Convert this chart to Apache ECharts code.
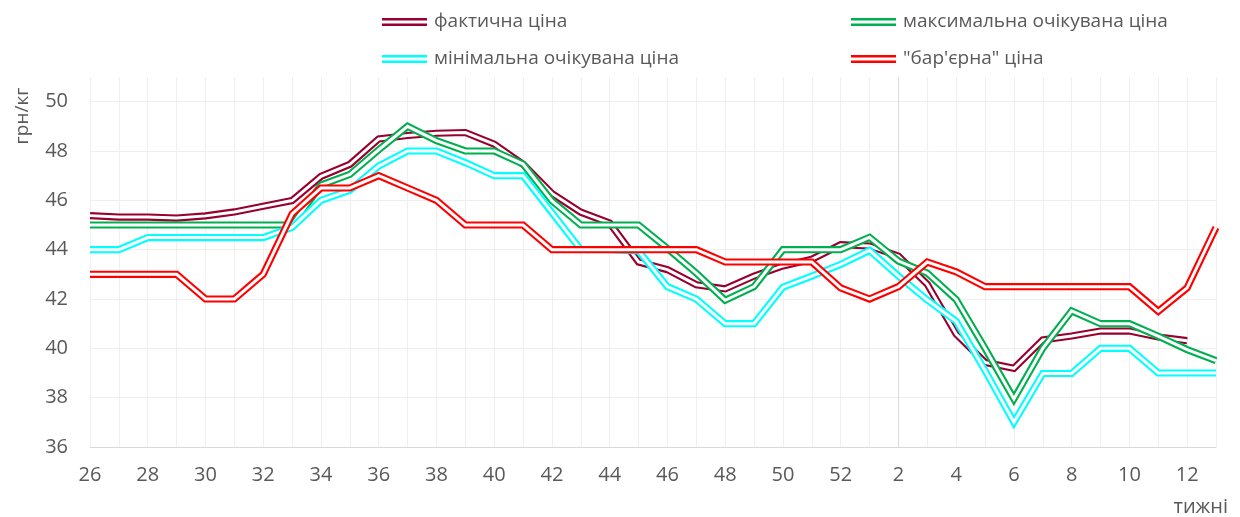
<!DOCTYPE html>
<html><head><meta charset="utf-8">
<script src="https://cdn.jsdelivr.net/npm/echarts@6/dist/echarts.min.js"></script>
<style>html,body{margin:0;padding:0;background:#fff}#c{width:1240px;height:517px}</style>
</head><body><div id="c"></div>
<script>
// Categories: weeks
const weeks = ['26','27','28','29','30','31','32','33','34','35','36','37','38','39','40','41','42','43','44','45','46','47','48','49','50','51','52','1','2','3','4','5','6','7','8','9','10','11','12','13'];
// Series values (грн/кг)
const actualPrice = [45.38,45.32,45.32,45.28,45.37,45.53,45.76,45.99,46.97,47.46,
  48.49,48.63,48.72,48.75,48.28,47.46,46.28,45.52,45.08,43.5,
  43.19,42.58,42.41,42.93,43.34,43.61,44.2,44.15,43.74,42.6,
  40.58,39.43,39.19,40.34,40.5,40.7,40.7,40.46,40.31,null];
const maxExpected = [45.0,45.0,45.0,45.0,45.0,45.0,45.0,45.0,46.62,47.05,
  48.05,49.0,48.42,48.0,48.0,47.47,45.98,45.0,45.0,45.0,
  44.05,43.05,41.95,42.5,44.0,44.0,44.0,44.5,43.54,43.05,
  41.98,40.0,37.95,40.0,41.52,41.0,41.0,40.49,39.95,39.5];
const minExpected = [44.0,44.0,44.49,44.49,44.49,44.49,44.49,44.9,46.0,46.41,
  47.39,48.0,48.0,47.53,47.0,47.0,45.5,44.0,44.0,43.95,
  42.5,42.0,41.0,41.0,42.48,42.93,43.4,43.97,42.93,41.96,
  41.1,39.1,37.0,38.98,38.98,40.0,40.0,39.0,39.0,39.0];
const barrierPrice = [43.0,43.0,43.0,43.0,42.0,42.0,43.0,45.45,46.5,46.5,
  47.0,46.5,46.0,45.0,45.0,45.0,44.0,44.0,44.0,44.0,
  44.0,44.0,43.5,43.5,43.5,43.5,42.45,42.0,42.5,43.5,
  43.1,42.5,42.5,42.5,42.5,42.5,42.5,41.5,42.45,44.9];
const seriesNames = ['фактична ціна','максимальна очікувана ціна','мінімальна очікувана ціна','"бар\'єрна" ціна'];
const yMin = 36, yMax = 51, yStep = 2;
const yAxisTitle = 'грн/кг';
const xAxisTitle = 'тижні';
const yearBreakWeek = '2';

const colors = ['#98002E','#00B050','#00FFFF','#FF0000'];
const dataSets = [actualPrice, maxExpected, minExpected, barrierPrice];
const FONT = 'Open Sans';
const TXT = '#595959';
const OUTER = 7.2, INNER = 3;

const series = [];
dataSets.forEach((d, i) => {
  const s = {
    type: 'line', name: seriesNames[i], data: d, symbol: 'none', showSymbol: false,
    color: colors[i], itemStyle: {color: colors[i]},
    lineStyle: {color: colors[i], width: OUTER, join: 'miter', miterLimit: 10},
    emphasis: {disabled: true}, animation: false
  };
  if (i === 0) {
    s.markLine = {silent: true, symbol: ['none','none'], z: 1, label: {show: false},
      lineStyle: {color: '#d9d9d9', width: 1, type: 'solid'}, data: [{xAxis: yearBreakWeek}], animation: false};
  }
  series.push(s);
  series.push({
    type: 'line', name: seriesNames[i] + '_inner', data: d, symbol: 'none', showSymbol: false, silent: true,
    lineStyle: {color: '#ffffff', width: INNER, join: 'miter', miterLimit: 10},
    itemStyle: {color: '#ffffff'}, emphasis: {disabled: true}, animation: false, tooltip: {show: false}
  });
});

const legendPos = [[377, 5], [846, 5], [377, 42], [846, 42]];
const legends = seriesNames.map((n, i) => ({
  data: [n], left: legendPos[i][0], top: legendPos[i][1], orient: 'horizontal',
  itemWidth: 45, itemHeight: 8, itemGap: 0, selectedMode: false,
  icon: 'path://M0,0H45V2.6H0ZM0,5.4H45V8H0Z',
  itemStyle: {borderWidth: 0},
  textStyle: {color: TXT, fontSize: 19, fontFamily: FONT, lineHeight: 24, padding: [0,0,0,2]}
}));

const chart = echarts.init(document.getElementById('c'), null, {renderer: 'canvas'});
chart.setOption({
  backgroundColor: '#ffffff',
  animation: false,
  legend: legends,
  grid: {left: 90, right: 24, top: 77, bottom: 70, containLabel: false},
  xAxis: {
    type: 'category', data: weeks, boundaryGap: false,
    name: xAxisTitle, nameLocation: 'end', nameGap: 12,
    nameTextStyle: {color: TXT, fontSize: 20, fontFamily: FONT, align: 'right', verticalAlign: 'top', padding: [50,0,0,0]},
    axisLine: {show: true, lineStyle: {color: '#d9d9d9', width: 1}},
    axisTick: {show: false},
    axisLabel: {interval: 1, color: TXT, fontSize: 20, fontFamily: FONT, margin: 18},
    splitLine: {show: true, interval: 0, lineStyle: {color: '#efefef', width: 1}}
  },
  yAxis: {
    type: 'value', min: yMin, max: yMax, interval: yStep,
    axisLine: {show: false}, axisTick: {show: false},
    axisLabel: {color: TXT, fontSize: 20, fontFamily: FONT, margin: 22,
      formatter: v => (v === yMax ? '' : String(v))},
    splitLine: {show: true, showMaxLine: false, lineStyle: {color: '#efefef', width: 1}}
  },
  graphic: [{
    type: 'text', x: 23, y: 116, rotation: Math.PI / 2,
    style: {text: yAxisTitle, fill: TXT, fontSize: 19, fontFamily: FONT, align: 'center', verticalAlign: 'middle'}
  }],
  series: series
});
</script>
</body></html>
